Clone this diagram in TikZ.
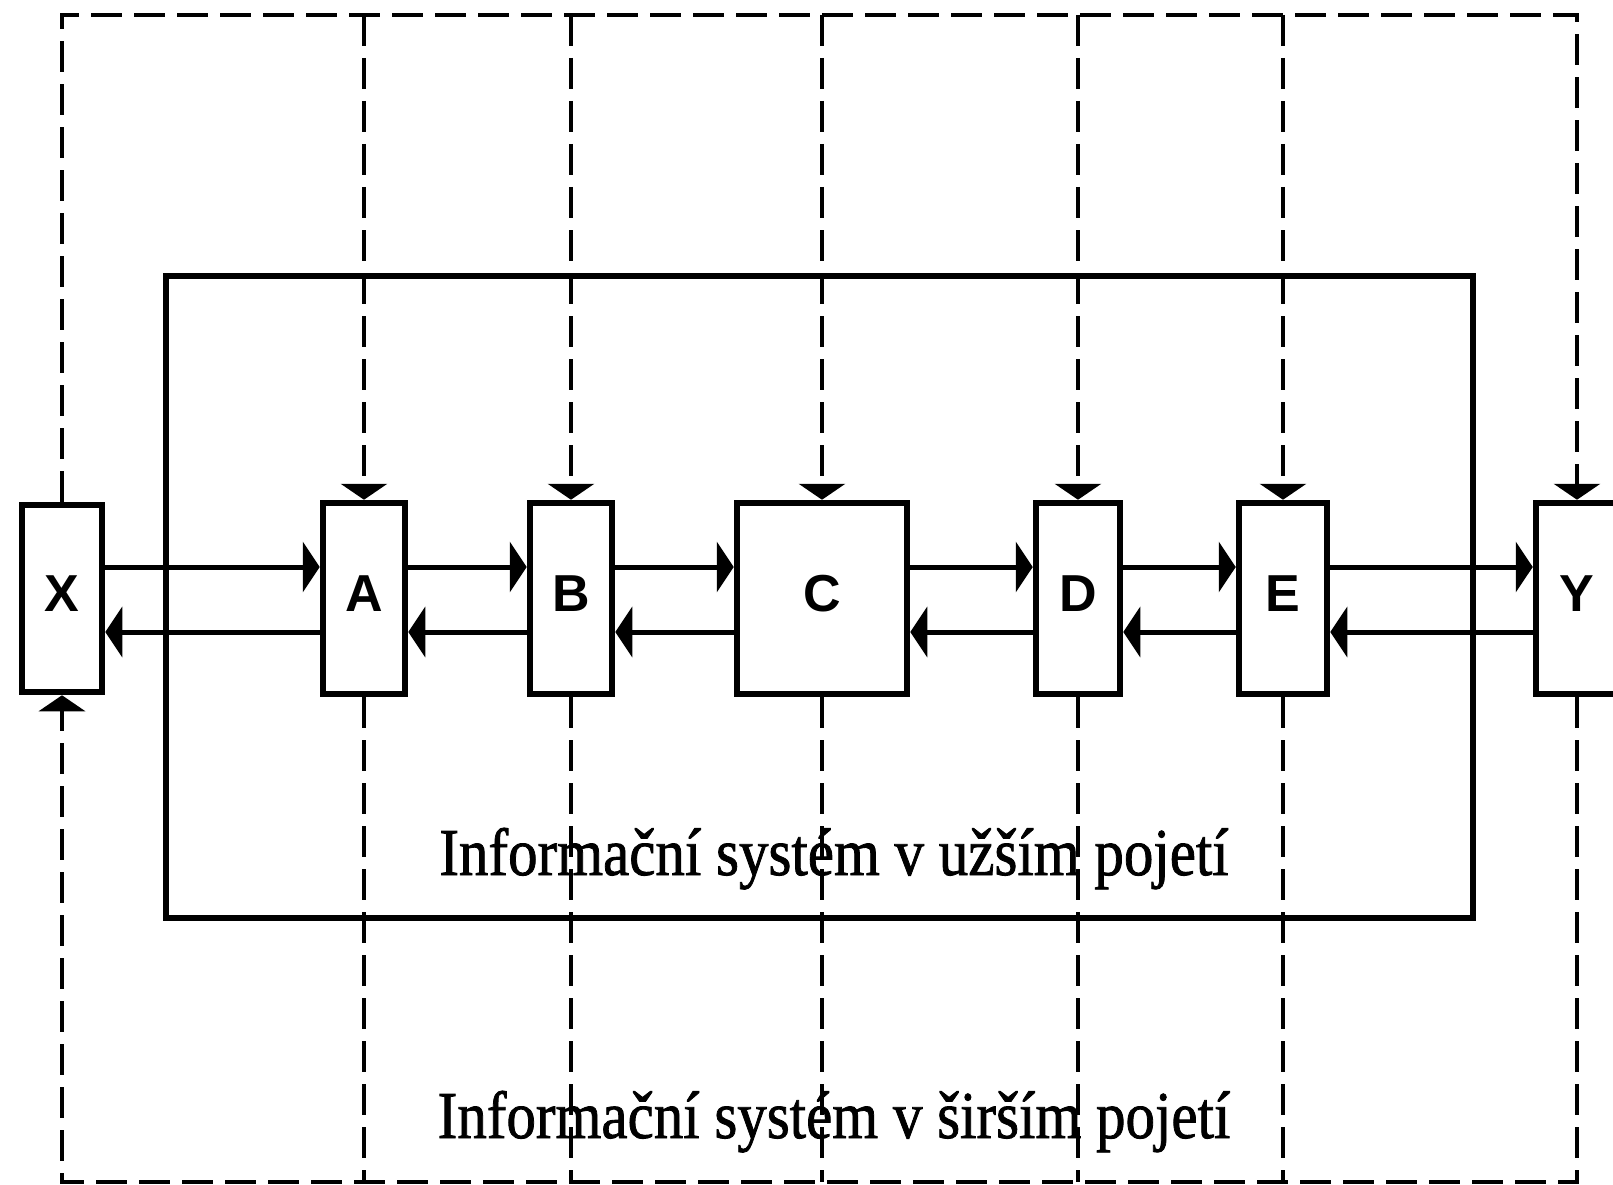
\documentclass[tikz,border=0pt]{standalone}
\usepackage{fontspec}
\setmainfont{Liberation Serif}
\newfontfamily\capfont[FakeBold=1.3]{Liberation Serif}
\newfontfamily\boxfont{Liberation Sans}
\usetikzlibrary{arrows.meta}
\begin{document}
\begin{tikzpicture}[x=1pt,y=-1pt,
  blk/.style={draw, line width=6.5pt, minimum height=191pt, inner sep=0pt,
    text height=38.7pt, text depth=12pt, font=\boxfont\bfseries\fontsize{52}{52}\selectfont},
  flow/.style={line width=5pt, -{Triangle[length=17pt,width=50pt]}},
  ctlline/.style={line width=4.5pt, dash pattern=on 31pt off 12pt},
  ctl/.style={ctlline, -{Triangle[length=16pt,width=46pt]}},
  caption/.style={anchor=base, inner sep=0pt, xscale=0.88, transform shape,
    font=\capfont\fontsize{67}{67}\selectfont},
]
\useasboundingbox (0,0) rectangle (1613,1185);
\clip (0,0) rectangle (1613,1185);

% boxes
\node[blk, minimum width=80pt, minimum height=187pt] (X) at (62,598.5) {X};
\node[blk, minimum width=82pt] (A) at (364,598.5) {A};
\node[blk, minimum width=82pt] (B) at (571,598.5) {B};
\node[blk, minimum width=170pt] (C) at (822,598.5) {C};
\node[blk, minimum width=84pt] (D) at (1078,598.5) {D};
\node[blk, minimum width=88pt] (E) at (1283,598.5) {E};
\node[blk, minimum width=82pt] (Y) at (1577,598.5) {Y};

% inner system boundary
\draw[line width=5.5pt] (166,276) rectangle (1473,918);

% captions
\node[caption] (t1) at (834,875) {Informační systém v užším pojetí};
\node[caption] (t2) at (834,1138) {Informační systém v širším pojetí};

% levels of flows
\coordinate (hu) at (0,567);
\coordinate (hl) at (0,632);
\foreach \a/\b in {X/A,A/B,B/C,C/D,D/E,E/Y}{
  \draw[flow] (\a.east |- hu) -- (\b.west |- hu);
  \draw[flow] (\b.west |- hl) -- (\a.east |- hl);
}

% outer (wider) system boundary
\coordinate (cTR) at (1577,15);
\coordinate (cBL) at (62,1182);
\draw[ctl] (X.north) |- (cTR) -- (Y.north);
\draw[ctl] (Y.south) |- (cBL) -- (X.south);

% vertical control lines
\foreach \n in {A,B,C,D,E}{
  \coordinate (top\n) at (\n.north |- cTR);
  \coordinate (bot\n) at (\n.south |- cBL);
  \draw[ctl] (top\n) -- (\n.north);
  \draw[ctlline] (\n.south) -- (bot\n);
}
\end{tikzpicture}
\end{document}
